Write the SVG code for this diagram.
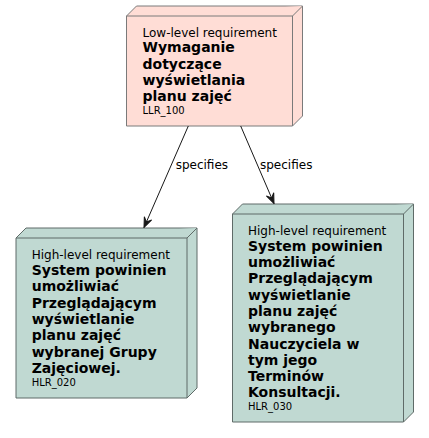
<svg xmlns="http://www.w3.org/2000/svg" width="429" height="438" viewBox="0 0 429 438">
<style>
text{font-family:"DejaVu Sans",Verdana,sans-serif;fill:#000}
.st{font-size:12px}
.t{font-size:14px;font-weight:bold}
.id{font-size:10px}
.lbl{font-size:12px}
.llr{fill:#FFDDD6;stroke:#7A7A7A;stroke-width:1}
.hlr{fill:#C0D9D2;stroke:#5F6B68;stroke-width:1}
.edge{stroke:#181818;stroke-width:1;fill:none}
</style>
<defs>
<marker id="arr" viewBox="-11 -5 12 10" refX="0" refY="0" markerWidth="12" markerHeight="10" markerUnits="userSpaceOnUse" orient="auto">
<path d="M0,0 L-10,-4 L-6,0 L-10,4 Z" fill="#181818" stroke="#181818" stroke-width="1"/>
</marker>
</defs>
<rect width="429" height="438" fill="#FFFFFF"/>
<g id="LLR_100">
<polygon class="llr" points="126.5,16 136.5,6 302.5,6 302.5,116 292.5,126 126.5,126"/>
<path class="llr" d="M126.5,16 L292.5,16 L302.5,6 M292.5,16 L292.5,126" fill="none"/>
<text class="st" x="142.5" y="36.7">Low-level requirement</text>
<text class="t" x="142.5" y="52.4">Wymaganie</text>
<text class="t" x="142.5" y="68.7">dotyczące</text>
<text class="t" x="142.5" y="85">wyświetlania</text>
<text class="t" x="142.5" y="101.3">planu zajęć</text>
<text class="id" x="142.5" y="114.3">LLR_100</text>
</g>
<g id="HLR_020">
<polygon class="hlr" points="16,238 26,228 197,228 197,388 187,398 16,398"/>
<path class="hlr" d="M16,238 L187,238 L197,228 M187,238 L187,398" fill="none"/>
<text class="st" x="31.7" y="259.3">High-level requirement</text>
<text class="t" x="31.7" y="275">System powinien</text>
<text class="t" x="31.7" y="291.3">umożliwiać</text>
<text class="t" x="31.7" y="307.6">Przeglądającym</text>
<text class="t" x="31.7" y="323.9">wyświetlanie</text>
<text class="t" x="31.7" y="340.2">planu zajęć</text>
<text class="t" x="31.7" y="356.5">wybranej Grupy</text>
<text class="t" x="31.7" y="372.8">Zajęciowej.</text>
<text class="id" x="31.7" y="385.7">HLR_020</text>
</g>
<g id="HLR_030">
<polygon class="hlr" points="232.5,214 242.5,204 413.5,204 413.5,412 403.5,422 232.5,422"/>
<path class="hlr" d="M232.5,214 L403.5,214 L413.5,204 M403.5,214 L403.5,422" fill="none"/>
<text class="st" x="248" y="235">High-level requirement</text>
<text class="t" x="248" y="250.7">System powinien</text>
<text class="t" x="248" y="267">umożliwiać</text>
<text class="t" x="248" y="283.3">Przeglądającym</text>
<text class="t" x="248" y="299.6">wyświetlanie</text>
<text class="t" x="248" y="315.9">planu zajęć</text>
<text class="t" x="248" y="332.2">wybranego</text>
<text class="t" x="248" y="348.5">Nauczyciela w</text>
<text class="t" x="248" y="364.8">tym jego</text>
<text class="t" x="248" y="381.1">Terminów</text>
<text class="t" x="248" y="397.4">Konsultacji.</text>
<text class="id" x="248" y="410.4">HLR_030</text>
</g>
<g id="connectors">
<line class="edge" x1="188.3" y1="126" x2="144" y2="227.5" marker-end="url(#arr)"/>
<text class="lbl" x="175.7" y="169.3">specifies</text>
<line class="edge" x1="240.7" y1="126" x2="274" y2="203.5" marker-end="url(#arr)"/>
<text class="lbl" x="260" y="169.3">specifies</text>
</g>
</svg>
